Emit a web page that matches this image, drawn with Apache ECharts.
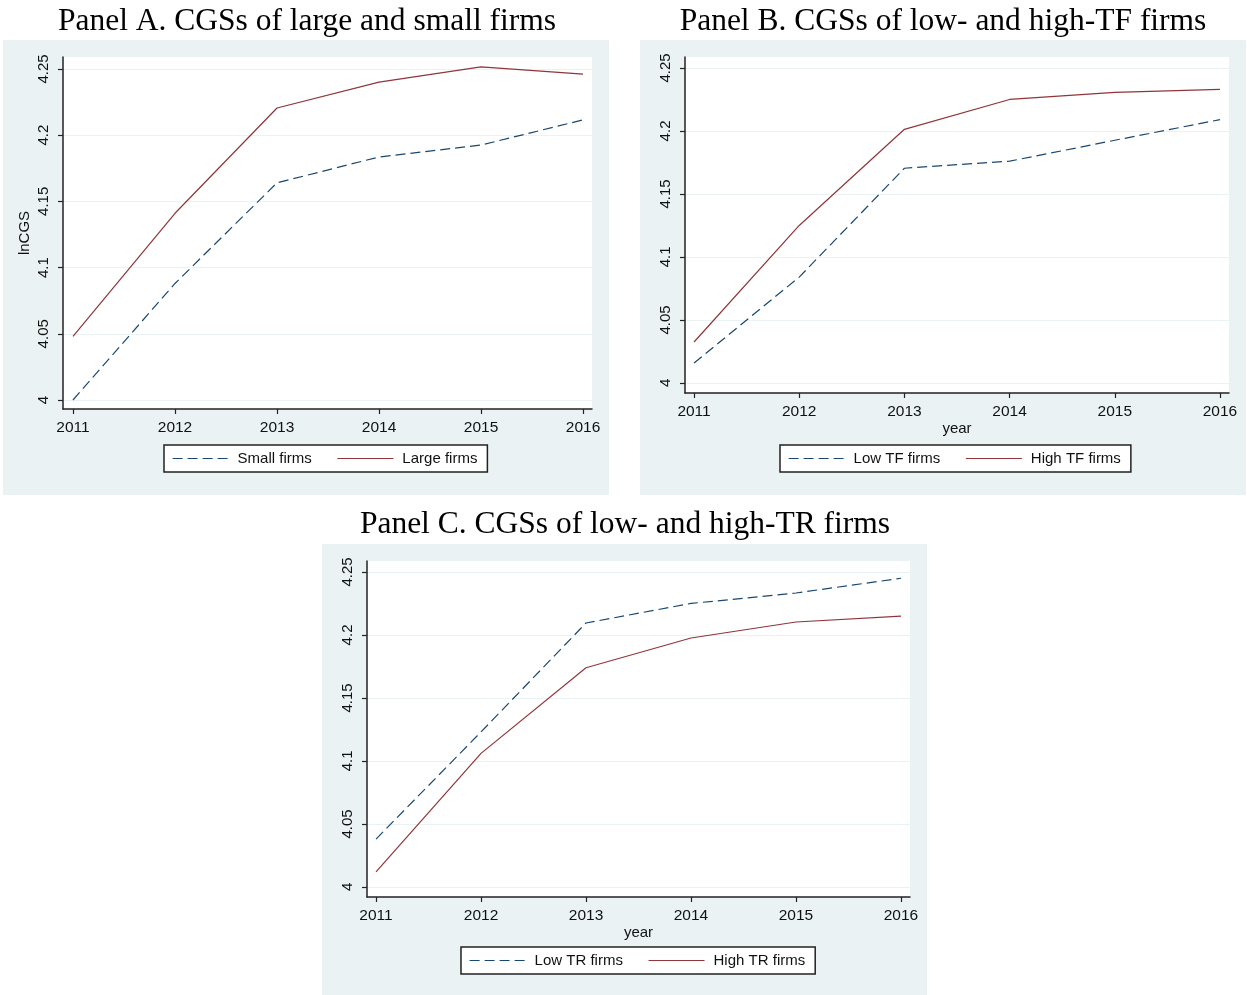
<!DOCTYPE html>
<html lang="en">
<head>
    <meta charset="utf-8">
    <title>CGSs panels</title>
    <script src="https://cdn.jsdelivr.net/npm/echarts@6.0.0/dist/echarts.min.js"></script>
    <style>
        html, body { margin: 0; padding: 0; background: #fff; }
        #chart { width: 1247px; height: 995px; }
    </style>
</head>
<body>
    <div id="chart"></div>
    <script>
        // data
        const years = [2011, 2012, 2013, 2014, 2015, 2016];
        const yTicks = [4, 4.05, 4.1, 4.15, 4.2, 4.25];

        const smallFirms = [4.000, 4.088, 4.164, 4.1835, 4.1925, 4.2115];
        const largeFirms = [4.048, 4.141, 4.2205, 4.240, 4.2515, 4.246];

        const lowTF = [4.0158, 4.084, 4.1704, 4.176, 4.1926, 4.209];
        const highTF = [4.0325, 4.125, 4.2013, 4.225, 4.2306, 4.233];

        const lowTR = [4.038, 4.123, 4.2095, 4.225, 4.2333, 4.245];
        const highTR = [4.012, 4.106, 4.174, 4.1976, 4.2103, 4.215];

        const panelTitles = [
            'Panel A. CGSs of large and small firms',
            'Panel B. CGSs of low- and high-TF firms',
            'Panel C. CGSs of low- and high-TR firms'
        ];

        const navy = '#1a476f';
        const maroon = '#90353b';
        const panelBg = '#eaf2f3';
        const ink = '#111';
        const sans = '"Liberation Sans", Arial, sans-serif';
        const serif = '"Liberation Serif", "Times New Roman", serif';

        function pairs(vals) {
            return years.map((y, i) => [y, vals[i]]);
        }

        function xAxisFor(idx, min, max, name) {
            return {
                type: 'value', gridIndex: idx, min: min, max: max,
                name: name || '', nameLocation: 'middle', nameGap: 27,
                nameTextStyle: { color: ink, fontSize: 15, fontFamily: sans },
                axisLine: { show: true, lineStyle: { color: '#222', width: 1.5 } },
                axisTick: { show: true, length: 5, customValues: years, lineStyle: { color: '#222', width: 1.2 } },
                axisLabel: {
                    customValues: years, margin: 11, color: ink, fontSize: 15.5, fontFamily: sans,
                    formatter: v => String(Math.round(v))
                },
                splitLine: { show: false }
            };
        }

        function yAxisFor(idx, min, max, name) {
            return {
                type: 'value', gridIndex: idx, min: min, max: max,
                name: name || '', nameLocation: 'middle', nameGap: 31, nameRotate: 90,
                nameTextStyle: { color: ink, fontSize: 15, fontFamily: sans },
                axisLine: { show: true, lineStyle: { color: '#222', width: 1.5 } },
                axisTick: { show: true, length: 5, customValues: yTicks, lineStyle: { color: '#222', width: 1.2 } },
                axisLabel: {
                    customValues: yTicks, rotate: 90, margin: 12, color: ink, fontSize: 15, fontFamily: sans,
                    formatter: v => String(+v.toFixed(2))
                },
                splitLine: { show: true, lineStyle: { color: panelBg, width: 1.2 } }
            };
        }

        function lineSeries(name, vals, idx, dashed) {
            return {
                name: name, type: 'line', xAxisIndex: idx, yAxisIndex: idx,
                data: pairs(vals), symbol: 'none', animation: false,
                lineStyle: { color: dashed ? navy : maroon, width: 1.2, type: dashed ? [10, 5] : 'solid' },
                itemStyle: { color: dashed ? navy : maroon }
            };
        }

        function legendFor(names, left, top) {
            return {
                data: names, left: left, top: top, orient: 'horizontal',
                itemWidth: 56, itemHeight: 14, itemGap: 25,
                padding: [6, 10, 6, 8],
                backgroundColor: '#fff', borderColor: '#222', borderWidth: 1.5, borderRadius: 0,
                textStyle: { color: ink, fontSize: 15, fontFamily: sans, padding: [0, 0, 0, 4] },
                itemStyle: { opacity: 0 },
                lineStyle: { width: 1.2 }
            };
        }

        function titleFor(text, x, top) {
            return {
                text: text, left: x, top: top, textAlign: 'center',
                textStyle: { fontFamily: serif, fontWeight: 'normal', fontSize: 31.5, color: '#000' }
            };
        }

        const chart = echarts.init(document.getElementById('chart'), null, { renderer: 'canvas' });

        chart.setOption({
            backgroundColor: '#fff',
            animation: false,
            graphic: [
                { type: 'rect', z: -10, shape: { x: 3, y: 40, width: 606, height: 455 }, style: { fill: panelBg } },
                { type: 'rect', z: -10, shape: { x: 640, y: 40, width: 606, height: 455 }, style: { fill: panelBg } },
                { type: 'rect', z: -10, shape: { x: 322, y: 544, width: 605, height: 451 }, style: { fill: panelBg } }
            ],
            title: [
                titleFor(panelTitles[0], 302, 1),
                titleFor(panelTitles[1], 938, 1),
                titleFor(panelTitles[2], 620, 504)
            ],
            grid: [
                { left: 63, top: 57, width: 529, height: 352, show: true, backgroundColor: '#fff', borderWidth: 0 },
                { left: 685, top: 57, width: 544, height: 336, show: true, backgroundColor: '#fff', borderWidth: 0 },
                { left: 367, top: 561, width: 543, height: 336, show: true, backgroundColor: '#fff', borderWidth: 0 }
            ],
            xAxis: [
                xAxisFor(0, 2010.902, 2016.088),
                xAxisFor(1, 2010.914, 2016.086, 'year'),
                xAxisFor(2, 2010.914, 2016.086, 'year')
            ],
            yAxis: [
                yAxisFor(0, 3.9932, 4.259, 'lnCGS'),
                yAxisFor(1, 3.992, 4.2587),
                yAxisFor(2, 3.992, 4.2587)
            ],
            legend: [
                legendFor(['Small firms', 'Large firms'], 164, 445),
                legendFor(['Low TF firms', 'High TF firms'], 780, 445),
                legendFor(['Low TR firms', 'High TR firms'], 461, 947)
            ],
            series: [
                lineSeries('Small firms', smallFirms, 0, true),
                lineSeries('Large firms', largeFirms, 0, false),
                lineSeries('Low TF firms', lowTF, 1, true),
                lineSeries('High TF firms', highTF, 1, false),
                lineSeries('Low TR firms', lowTR, 2, true),
                lineSeries('High TR firms', highTR, 2, false)
            ]
        });
    </script>
</body>
</html>
